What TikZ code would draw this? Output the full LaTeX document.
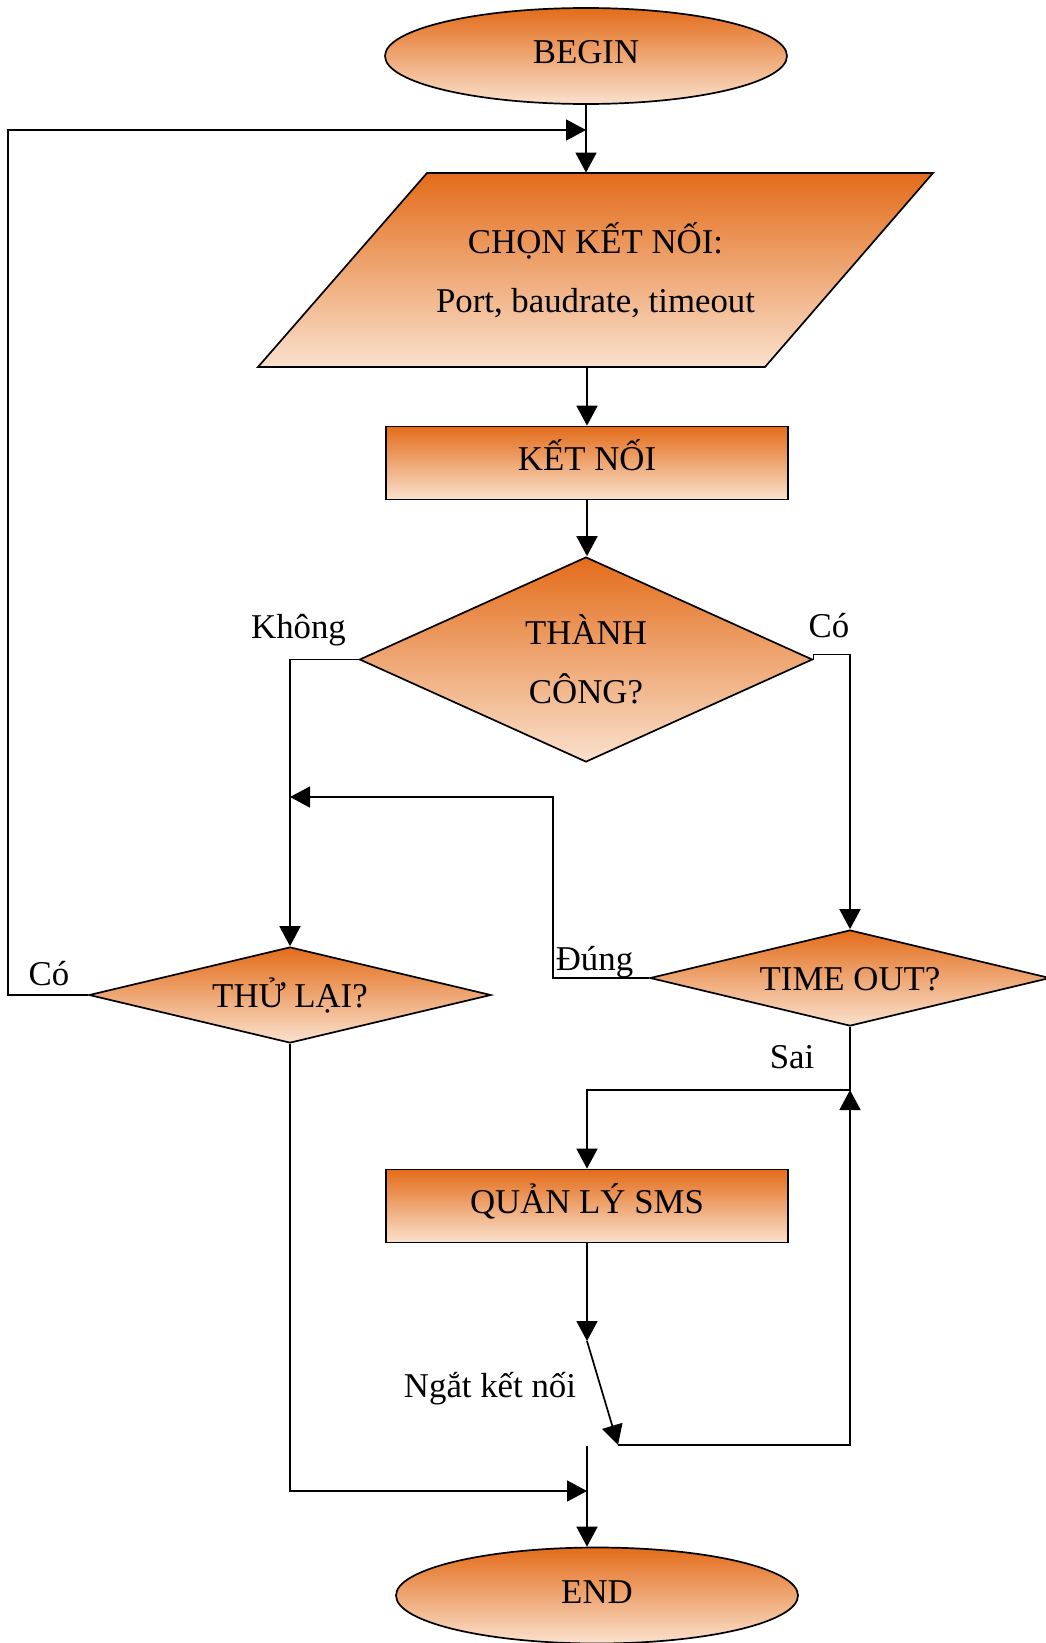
\documentclass[tikz,border=0pt]{standalone}
\usepackage{fontspec}
\setmainfont{Liberation Serif}
\usepackage{xcolor}
\usepackage{tikz}
\usetikzlibrary{shapes.geometric, arrows.meta, positioning, calc}

\definecolor{flowtop}{RGB}{227,108,26}
\definecolor{flowbot}{RGB}{250,225,205}

\tikzset{
  flowfill/.style={draw=black, line width=0.85pt, top color=flowtop, bottom color=flowbot},
  flowshape/.style={flowfill, inner sep=0pt, font=\fontsize{17.4pt}{21pt}\selectfont},
  startstop/.style={flowshape, ellipse, minimum width=201pt, minimum height=48pt, text height=12.2pt, text depth=4.4pt},
  iotext/.style={rectangle, inner sep=0pt, minimum width=250pt, minimum height=97pt, align=center, font=\fontsize{17.4pt}{29.5pt}\selectfont},
  process/.style={flowshape, rectangle, minimum width=201pt, minimum height=36.5pt, text height=12.2pt, text depth=4.4pt},
  decision/.style={flowshape, diamond, aspect=4, minimum width=201pt, minimum height=48pt},
  flowline/.style={line width=0.85pt, -{Triangle[length=10pt, width=10.5pt]}},
  lbl/.style={anchor=base, inner sep=0pt, font=\fontsize{17.4pt}{21pt}\selectfont},
}

\begin{document}
\begin{tikzpicture}[x=0.5pt, y=-0.5pt]
    \useasboundingbox (0,0) rectangle (1045,1643);

    % Input block (parallelogram)
    \path[flowfill] (427,173) -- (933,173) -- (765,367) -- (258,367) -- cycle;

    % Main blocks
    \node[startstop] (begin) at (586,56) {BEGIN};
    \node[iotext] (chon) at (595.5,270) {CHỌN KẾT NỐI:\\Port, baudrate, timeout};
    \node[process] (ketnoi) at (587,463) {KẾT NỐI};
    \node[decision, aspect=2.2, minimum width=226.5pt, minimum height=102.5pt, align=center, font=\fontsize{17.4pt}{29.5pt}\selectfont] (thanhcong) at (586,659.5) {THÀNH\\CÔNG?};
    \node[decision, text height=13.9pt, text depth=1.4pt] (thulai) at (290,995) {THỬ LẠI?};
    \node[decision, text height=13.9pt, text depth=1.4pt, minimum width=200pt] (timeout) at (850,978) {TIME OUT?};
    \node[process] (quanly) at (587,1206) {QUẢN LÝ SMS};
    \node[startstop] (finish) at (597,1595.5) {END};

    % Bends and joins
    \coordinate (loopin) at (586,130);
    \coordinate (rejoin) at (290,797);
    \coordinate (saijoin) at (850,1090);
    \coordinate (swtop) at (587,1341);
    \coordinate (swbot) at (618,1445);
    \coordinate (endin) at (587,1446);
    \coordinate (mergeend) at (587,1491);

    % Connectors
    \draw[flowline] (begin) -- (begin |- chon.north);
    \draw[flowline] (thulai.west) -- ++(-80,0) |- (loopin);
    \draw[flowline] (ketnoi.north |- chon.south) -- (ketnoi.north);
    \draw[flowline] (ketnoi.south) -- (ketnoi.south |- thanhcong.north);
    \draw[flowline] (thanhcong.west) -| (thulai.north);
    \draw[flowline] (thanhcong.east) -- ++(0,-5) -| (timeout.north);
    \draw[flowline] (timeout.west) -- ++(-96,0) |- (rejoin);
    \draw[flowline] (timeout.south) -- (saijoin) -| (quanly.north);
    \draw[flowline] (quanly.south) -- (swtop);
    \draw[flowline] (swtop) -- (swbot);
    \draw[flowline] (swbot) -| (saijoin);
    \draw[flowline] (endin) -- (endin |- finish.north);
    \draw[flowline] (thulai.south) |- (mergeend);

    % Labels
    \node[lbl] (khong) at (298.5,638) {Không};
    \node[lbl] (coright) at (829,637) {Có};
    \node[lbl] (coleft) at (49,985) {Có};
    \node[lbl] (dung) at (594.5,970) {Đúng};
    \node[lbl] (sai) at (792,1068) {Sai};
    \node[lbl] (ngat) at (490,1397) {Ngắt kết nối};
\end{tikzpicture}
\end{document}
